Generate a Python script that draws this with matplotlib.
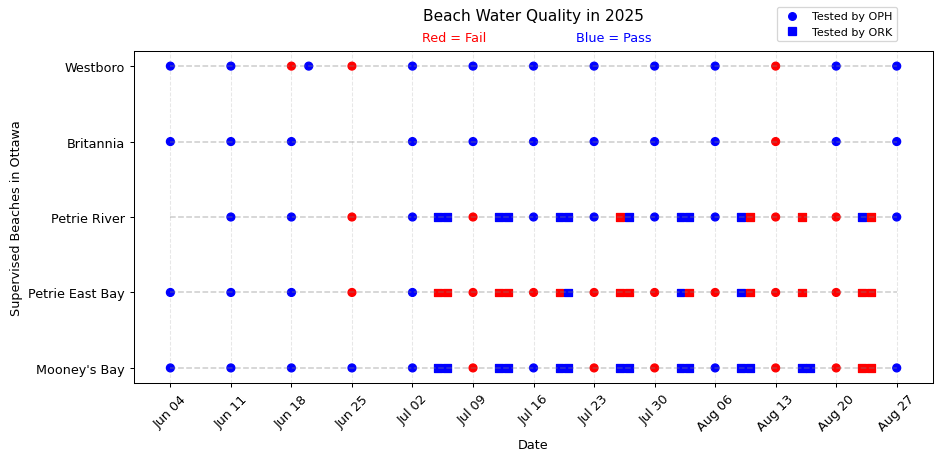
import matplotlib
matplotlib.use("Agg")
import matplotlib.pyplot as plt
import matplotlib.dates as mdates
import pandas as pd
from matplotlib.lines import Line2D

YEAR = 2025

# beaches from bottom to top of the chart
beaches = ["Mooney's Bay", "Petrie East Bay", "Petrie River", "Britannia", "Westboro"]

# OPH samples (circles): dates and result (1 = pass, 0 = fail)
westboro_oph_dates = ["06-04", "06-11", "06-18", "06-20", "06-25", "07-02", "07-09",
                      "07-16", "07-23", "07-30", "08-06", "08-13", "08-20", "08-27"]
westboro_oph_pass = [1, 1, 0, 1, 0, 1, 1, 1, 1, 1, 1, 0, 1, 1]

britannia_oph_dates = ["06-04", "06-11", "06-18", "07-02", "07-09", "07-16",
                       "07-23", "07-30", "08-06", "08-13", "08-20", "08-27"]
britannia_oph_pass = [1, 1, 1, 1, 1, 1, 1, 1, 1, 0, 1, 1]

petrie_river_oph_dates = ["06-11", "06-18", "06-25", "07-02", "07-09", "07-16",
                          "07-23", "07-30", "08-06", "08-13", "08-20", "08-27"]
petrie_river_oph_pass = [1, 1, 0, 1, 0, 1, 1, 1, 1, 0, 0, 1]

petrie_east_oph_dates = ["06-04", "06-11", "06-18", "06-25", "07-02", "07-09",
                         "07-16", "07-23", "07-30", "08-06", "08-13", "08-20"]
petrie_east_oph_pass = [1, 1, 1, 0, 1, 0, 0, 0, 0, 0, 0, 0]

mooneys_oph_dates = ["06-04", "06-11", "06-18", "06-25", "07-02", "07-09", "07-16",
                     "07-23", "07-30", "08-06", "08-13", "08-20", "08-27"]
mooneys_oph_pass = [1, 1, 1, 1, 1, 0, 1, 0, 0, 1, 0, 0, 1]

# ORK samples (squares)
petrie_river_ork_dates = ["07-05", "07-06", "07-12", "07-13", "07-19", "07-20", "07-26",
                          "07-27", "08-02", "08-03", "08-09", "08-10", "08-16", "08-23", "08-24"]
petrie_river_ork_pass = [1, 1, 1, 1, 1, 1, 0, 1, 1, 1, 1, 0, 0, 1, 0]

petrie_east_ork_dates = ["07-05", "07-06", "07-12", "07-13", "07-19", "07-20", "07-26",
                         "07-27", "08-02", "08-03", "08-09", "08-10", "08-16", "08-23", "08-24"]
petrie_east_ork_pass = [0, 0, 0, 0, 0, 1, 0, 0, 1, 0, 1, 0, 0, 0, 0]

mooneys_ork_dates = ["07-05", "07-06", "07-12", "07-13", "07-19", "07-20", "07-26", "07-27",
                     "08-02", "08-03", "08-09", "08-10", "08-16", "08-17", "08-23", "08-24"]
mooneys_ork_pass = [1, 1, 1, 1, 1, 1, 1, 1, 1, 1, 1, 1, 1, 1, 0, 0]

oph = {
    "Westboro": (westboro_oph_dates, westboro_oph_pass),
    "Britannia": (britannia_oph_dates, britannia_oph_pass),
    "Petrie River": (petrie_river_oph_dates, petrie_river_oph_pass),
    "Petrie East Bay": (petrie_east_oph_dates, petrie_east_oph_pass),
    "Mooney's Bay": (mooneys_oph_dates, mooneys_oph_pass),
}
ork = {
    "Petrie River": (petrie_river_ork_dates, petrie_river_ork_pass),
    "Petrie East Bay": (petrie_east_ork_dates, petrie_east_ork_pass),
    "Mooney's Bay": (mooneys_ork_dates, mooneys_ork_pass),
}


def to_dates(days):
    return pd.to_datetime([f"{YEAR}-{d}" for d in days])


def colours(flags):
    return ["blue" if f else "red" for f in flags]


fig, ax = plt.subplots(figsize=(940 / 92, 462 / 92), dpi=92)
fig.subplots_adjust(left=0.1426, right=0.9926, top=0.8874, bottom=0.1688)

all_dates = []
for source, marker in ((oph, "o"), (ork, "s")):
    for beach, (days, flags) in source.items():
        d = to_dates(days)
        all_dates.extend(d)
        y = [beaches.index(beach)] * len(d)
        ax.scatter(d, y, c=colours(flags), marker=marker, s=38, zorder=2)

first, last = min(all_dates), max(all_dates)
for i, beach in enumerate(beaches):
    ax.plot([first, last], [i, i], linestyle="--", color="gray", alpha=0.4,
            linewidth=1.2, zorder=3)

ax.set_yticks(range(len(beaches)))
ax.set_yticklabels(beaches)

weekly = pd.date_range(first, last, freq="7D")
ax.set_xticks(weekly)
ax.xaxis.set_major_formatter(mdates.DateFormatter("%b %d"))
plt.setp(ax.get_xticklabels(), rotation=45)
ax.grid(True, axis="x", linestyle="--", alpha=0.3)

ax.set_xlabel("Date")
ax.set_ylabel("Supervised Beaches in Ottawa")
ax.set_title("Beach Water Quality in 2025", pad=24)
ax.text(0.4, 1.022, "Red = Fail", color="red", ha="center", va="bottom",
        transform=ax.transAxes)
ax.text(0.6, 1.022, "Blue = Pass", color="blue", ha="center", va="bottom",
        transform=ax.transAxes)

handles = [
    Line2D([], [], marker="o", color="blue", linestyle="none", markersize=6, label="Tested by OPH"),
    Line2D([], [], marker="s", color="blue", linestyle="none", markersize=6, label="Tested by ORK"),
]
fig.legend(handles=handles, loc="upper right", bbox_to_anchor=(897 / 940, 1 - 8 / 462),
           fontsize=8.7, borderaxespad=0)

fig.savefig("out.png", dpi=92)
